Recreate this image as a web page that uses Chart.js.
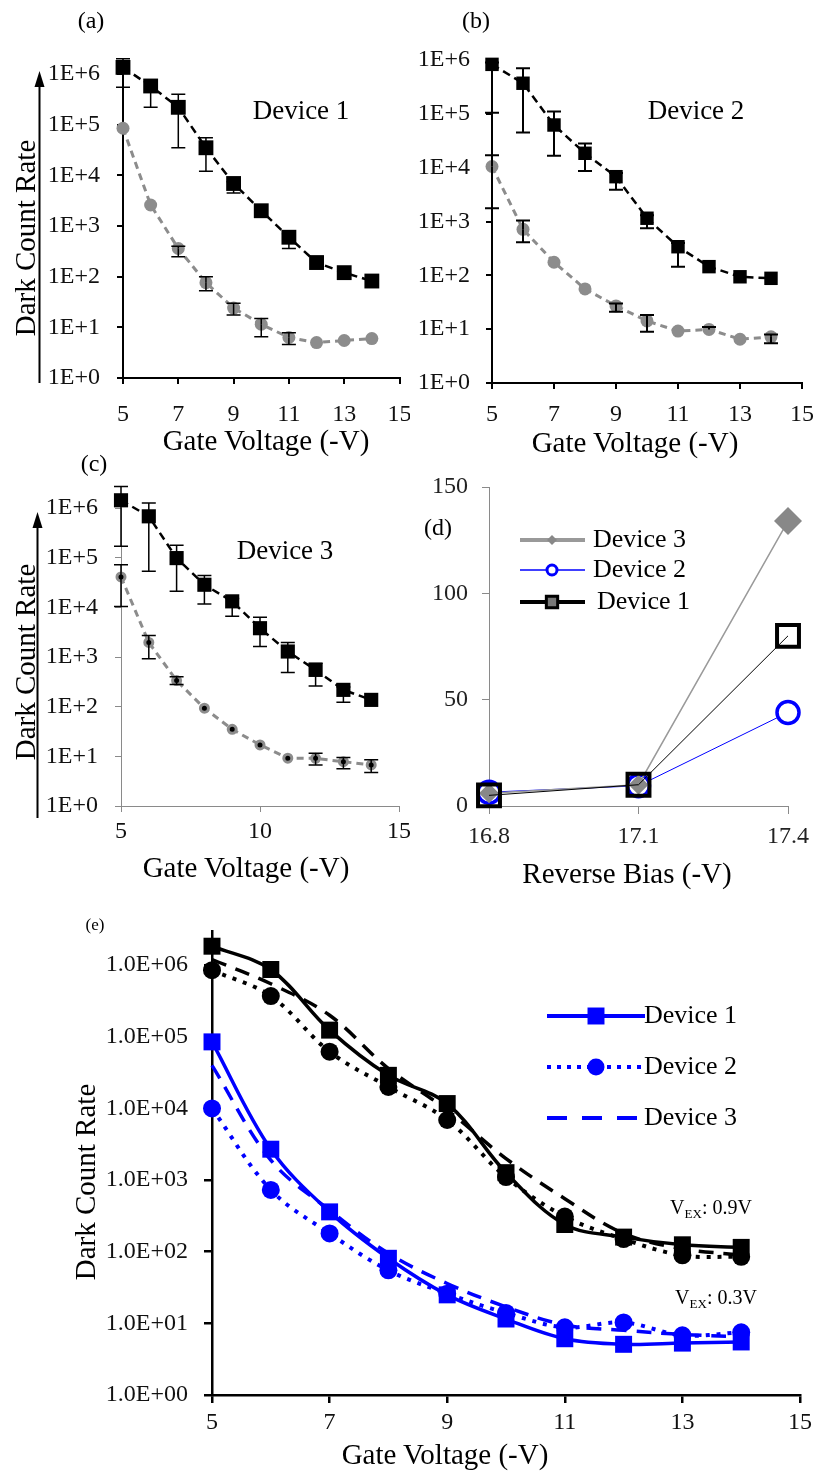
<!DOCTYPE html>
<html>
<head>
<meta charset="utf-8">
<script src="https://cdn.jsdelivr.net/npm/chart.js@4.4.0/dist/chart.umd.min.js"></script>
<style>
  body { margin: 0; background: #fff; }
  #page { position: relative; width: 819px; height: 1475px; font-family: 'Liberation Serif', 'Times New Roman', serif; color: #000; overflow: hidden; }
  #page canvas { position: absolute; }
  .t { position: absolute; white-space: nowrap; line-height: 1; transform: translate(-50%, -50%); }
  .v { transform: translate(-50%, -50%) rotate(-90deg); }
  .sub { font-size: 13px; position: relative; top: 4px; }
  svg { position: absolute; left: 0; top: 0; }
</style>
</head>
<body>
<div id="page">
  <canvas id="chartA" width="410" height="460" style="left:0;top:0"></canvas>
  <canvas id="chartB" width="409" height="460" style="left:410px;top:0"></canvas>
  <canvas id="chartC" width="410" height="430" style="left:0;top:460px"></canvas>
  <canvas id="chartD" width="409" height="430" style="left:410px;top:460px"></canvas>
  <canvas id="chartE" width="819" height="585" style="left:0;top:890px"></canvas>

  <svg width="819" height="1475">
    <line x1="39.5" y1="383" x2="39.5" y2="84" stroke="#000" stroke-width="2"/>
    <polygon points="39.5,71,34.5,87,44.5,87" fill="#000"/>
    <line x1="37.5" y1="818" x2="37.5" y2="525" stroke="#000" stroke-width="2"/>
    <polygon points="37.5,512,32.5,528,42.5,528" fill="#000"/>
  </svg>

  <div class="t" style="left:91px;top:20px;font-size:24px">(a)</div>
  <div class="t" style="left:476px;top:20px;font-size:24px">(b)</div>
  <div class="t" style="left:94px;top:463px;font-size:24px">(c)</div>
  <div class="t" style="left:438px;top:527px;font-size:24px">(d)</div>
  <div class="t" style="left:95px;top:924px;font-size:17px">(e)</div>

  <div class="t" style="left:301px;top:110px;font-size:27px">Device 1</div>
  <div class="t" style="left:696px;top:110px;font-size:27px">Device 2</div>
  <div class="t" style="left:285px;top:550px;font-size:27px">Device 3</div>

  <div class="t" style="left:266px;top:440px;font-size:29px">Gate Voltage (-V)</div>
  <div class="t" style="left:635px;top:442px;font-size:29px">Gate Voltage (-V)</div>
  <div class="t" style="left:246px;top:867px;font-size:29px">Gate Voltage (-V)</div>
  <div class="t" style="left:627px;top:873px;font-size:29px">Reverse Bias (-V)</div>
  <div class="t" style="left:445px;top:1454px;font-size:29px">Gate Voltage (-V)</div>

  <div class="t v" style="left:25px;top:238px;font-size:29px">Dark Count Rate</div>
  <div class="t v" style="left:25px;top:662px;font-size:29px">Dark Count Rate</div>
  <div class="t v" style="left:85px;top:1182px;font-size:29px">Dark Count Rate</div>

  <div class="t" style="left:711px;top:1207px;font-size:20px">V<span class="sub">EX</span>: 0.9V</div>
  <div class="t" style="left:716px;top:1297px;font-size:20px">V<span class="sub">EX</span>: 0.3V</div>
</div>

<script>
// gate voltage sweep used by panels a, b, c, e
const gateV = [5, 6, 7, 8, 9, 10, 11, 12, 13, 14];

// panel (a) - device 1
const aHigh   = [1.35e6, 5.8e5, 2.2e5, 3.5e4, 6.9e3, 2.0e3, 600, 190, 120, 82];
const aHighLo = [5.5e5, 2.2e5, 3.5e4, 1.2e4, 4.5e3, null, 360, null, null, null];
const aHighHi = [2.0e6, 7.0e5, 4.0e5, 5.5e4, 7.5e3, null, 700, null, null, null];
const aLow    = [8.5e4, 2.6e3, 360, 76, 24, 11.5, 6.3, 5.0, 5.5, 6.0];
const aLowLo  = [null, null, 246, 53, 17.5, 6.5, 4.6, null, null, null];
const aLowHi  = [null, null, 400, 100, 30, 15, 7.8, null, null, null];

// panel (b) - device 2
const bHigh   = [8.3e5, 3.7e5, 6.2e4, 1.85e4, 6.8e3, 1.15e3, 340, 145, 94, 88];
const bHighLo = [1.05e5, 4.5e4, 1.67e4, 8.7e3, 3.9e3, 750, 145, null, null, null];
const bHighHi = [9.0e5, 7.0e5, 1.1e5, 2.8e4, 8.0e3, 1.3e3, 400, null, null, null];
const bLow    = [1.05e4, 716, 175, 56, 27, 14.2, 9.2, 9.9, 6.5, 7.2];
const bLowLo  = [1.76e3, 410, null, null, 21, 9, null, null, null, 5.5];
const bLowHi  = [1.7e4, 1.04e3, null, null, 30, 18.4, null, 11, null, 8];

// panel (c) - device 3
const cHigh   = [1.43e6, 6.8e5, 9.8e4, 2.85e4, 1.32e4, 3.8e3, 1.29e3, 550, 218, 137];
const cHighLo = [1.7e5, 5.3e4, 2.1e4, 1.17e4, 6.6e3, 1.63e3, 490, 262, 123, null];
const cHighHi = [2.7e6, 1.26e6, 1.77e5, 4.4e4, 1.5e4, 6.3e3, 1.96e3, 750, 250, null];
const cLow    = [4.1e4, 1.96e3, 335, 93, 35, 17, 9.2, 9.1, 7.8, 6.7];
const cLowLo  = [1.04e4, 920, 280, null, null, null, null, 6.7, 5.6, 4.7];
const cLowHi  = [7.2e4, 2.7e3, 400, null, null, null, null, 11.5, 9.5, 8.5];

// panel (d)
const biasLabels = ['16.8', '17.1', '17.4'];
const dDev3 = [6, 10, 134];
const dDev2 = [6.5, 9.5, 44];
const dDev1 = [5, 10, 80];

// panel (e) - VEX 0.9V (black) and 0.3V (blue)
const eD1High = [1.84e6, 8.7e5, 1.24e5, 2.9e4, 1.17e4, 1.27e3, 240, 160, 125, 115];
const eD2High = [8.5e5, 3.7e5, 6.2e4, 2.0e4, 6.9e3, 1.1e3, 310, 150, 89, 85];
const eD3High = [1.2e6, 5.5e5, 2.0e5, 3.6e4, 9.5e3, 2.0e3, 550, 180, 110, 90];
const eD1Low  = [8.5e4, 2.7e3, 360, 81, 25, 11.5, 6.1, 5.1, 5.3, 5.5];
const eD2Low  = [1.0e4, 730, 180, 55, 26, 14, 8.8, 10.3, 6.8, 7.5];
const eD3Low  = [4.0e4, 1.9e3, 380, 95, 36, 17, 9.5, 8.0, 7.0, 6.5];

const decades = [1, 10, 100, 1e3, 1e4, 1e5, 1e6];
const legendE = ['Device 1', 'Device 2', 'Device 3'];
const legendD = ['Device 3', 'Device 2', 'Device 1'];

const SERIF = "'Liberation Serif', 'Times New Roman', serif";
const tickFont = { family: SERIF, size: 24 };
const GRAY = '#8c8c8c';
const BLUE = '#0000ff';

function pts(arr) {
  return gateV.map((x, i) => ({ x, y: arr[i] }));
}

const errorBars = {
  id: 'errorBars',
  afterDatasetsDraw(chart) {
    const { ctx, scales } = chart;
    chart.data.datasets.forEach((ds) => {
      if (!ds.errLo) return;
      ctx.save();
      ctx.strokeStyle = '#000';
      ctx.lineWidth = ds.errWidth || 1.5;
      ds.data.forEach((p, i) => {
        const x = scales.x.getPixelForValue(p.x);
        const y0 = scales.y.getPixelForValue(p.y);
        [ds.errLo[i], ds.errHi[i]].forEach((v) => {
          if (v == null) return;
          const y = scales.y.getPixelForValue(v);
          ctx.beginPath();
          ctx.moveTo(x, y0);
          ctx.lineTo(x, y);
          ctx.moveTo(x - 7, y);
          ctx.lineTo(x + 7, y);
          ctx.stroke();
        });
      });
      ctx.restore();
    });
  },
};

function yLog(o) {
  return {
    type: 'logarithmic',
    min: 1,
    max: o.max,
    afterBuildTicks: (s) => { s.ticks = decades.map((v) => ({ value: v })); },
    afterFit: (s) => { s.width = o.width; s.paddingTop = 0; s.paddingBottom = 0; },
    border: { display: true, color: o.color, width: o.lw },
    grid: { drawOnChartArea: false, color: o.color, lineWidth: o.lw, tickLength: o.tl },
    ticks: { font: tickFont, color: '#111', padding: o.pad, callback: o.fmt },
  };
}

function xGate(o) {
  return {
    type: 'linear',
    min: 5,
    max: 15,
    afterFit: (s) => { s.height = o.height; s.paddingLeft = 0; s.paddingRight = 0; },
    border: { display: true, color: o.color, width: o.lw },
    grid: { drawOnChartArea: false, color: o.color, lineWidth: o.lw, tickLength: o.tl },
    ticks: { font: tickFont, color: '#111', padding: o.pad, stepSize: o.step, maxRotation: 0 },
  };
}

const fmtShort = (v) => '1E+' + Math.round(Math.log10(v));
const fmtLong = (v) => '1.0E+0' + Math.round(Math.log10(v));

function gatePanel(id, p) {
  return new Chart(document.getElementById(id), {
    type: 'line',
    data: {
      datasets: [
        {
          data: pts(p.high), errLo: p.highLo, errHi: p.highHi, errWidth: p.errWidth,
          borderColor: '#000', borderWidth: 2.5, borderDash: [8, 5],
          pointStyle: 'rect', pointRadius: p.sq, pointBackgroundColor: '#000', pointBorderWidth: 0,
          clip: false,
        },
        {
          data: pts(p.low), errLo: p.lowLo, errHi: p.lowHi, errWidth: p.errWidth,
          borderColor: GRAY, borderWidth: 3, borderDash: [7, 5],
          pointStyle: 'circle', pointRadius: p.dot, pointBackgroundColor: p.dotFill,
          pointBorderColor: GRAY, pointBorderWidth: p.dotBorder,
          clip: false,
        },
      ],
    },
    options: {
      responsive: false,
      animation: false,
      events: [],
      layout: { padding: { left: 0, top: p.top, right: p.right, bottom: 0 } },
      plugins: { legend: { display: false }, tooltip: { enabled: false } },
      scales: {
        x: xGate({ height: p.xH, color: p.axis, lw: p.lw, tl: 6, pad: p.xPad, step: p.step }),
        y: yLog({ max: 1e6, width: p.yW, color: p.axis, lw: p.lw, tl: 6, pad: p.yPad, fmt: fmtShort }),
      },
    },
    plugins: [errorBars],
  });
}

gatePanel('chartA', {
  high: aHigh, highLo: aHighLo, highHi: aHighHi, low: aLow, lowLo: aLowLo, lowHi: aLowHi,
  sq: 10.5, dot: 6.5, dotFill: GRAY, dotBorder: 0, errWidth: 1.5,
  top: 74, right: 8, yW: 123, xH: 82, axis: '#000', lw: 2, xPad: 16, yPad: 17, step: 2,
});

gatePanel('chartB', {
  high: bHigh, highLo: bHighLo, highHi: bHighHi, low: bLow, lowLo: bLowLo, lowHi: bLowHi,
  sq: 9.5, dot: 6.5, dotFill: GRAY, dotBorder: 0, errWidth: 2,
  top: 60, right: 17, yW: 82, xH: 77, axis: '#000', lw: 2, xPad: 11, yPad: 16, step: 2,
});

gatePanel('chartC', {
  high: cHigh, highLo: cHighLo, highHi: cHighHi, low: cLow, lowLo: cLowLo, lowHi: cLowHi,
  sq: 10, dot: 4, dotFill: '#000', dotBorder: 3, errWidth: 1.5,
  top: 48, right: 11, yW: 121, xH: 84, axis: '#8a8a8a', lw: 1, xPad: 5, yPad: 17, step: 5,
});

// panel (d)
const legendPluginD = {
  id: 'legendD',
  afterDraw(chart) {
    const ctx = chart.ctx;
    const rows = [
      { y: 80, color: '#999', lw: 4, style: 'rectRot', r: 5, fill: '#888', bc: '#888', bw: 0 },
      { y: 110, color: BLUE, lw: 1.5, style: 'circle', r: 5, fill: '#fff', bc: BLUE, bw: 3 },
      { y: 142, color: '#000', lw: 4, style: 'rect', r: 8, fill: '#777', bc: '#000', bw: 3 },
    ];
    ctx.save();
    rows.forEach((row, i) => {
      ctx.strokeStyle = row.color;
      ctx.lineWidth = row.lw;
      ctx.beginPath();
      ctx.moveTo(110, row.y);
      ctx.lineTo(175, row.y);
      ctx.stroke();
      ctx.fillStyle = row.fill;
      ctx.strokeStyle = row.bc;
      ctx.lineWidth = row.bw;
      Chart.helpers.drawPoint(ctx, { pointStyle: row.style, radius: row.r, rotation: 0, borderWidth: row.bw }, 142, row.y);
      ctx.fillStyle = '#000';
      ctx.font = '26px ' + SERIF;
      ctx.textBaseline = 'middle';
      ctx.fillText(legendD[i], i === 2 ? 187 : 183, row.y);
    });
    ctx.restore();
  },
};

new Chart(document.getElementById('chartD'), {
  type: 'line',
  data: {
    labels: biasLabels,
    datasets: [
      {
        label: 'Device 1', data: dDev1, borderColor: '#000', borderWidth: 1,
        pointStyle: 'rect', pointRadius: 15.5, pointBackgroundColor: 'rgba(0,0,0,0)',
        pointBorderColor: '#000', pointBorderWidth: 4, clip: false,
      },
      {
        label: 'Device 3', data: dDev3, borderColor: '#9a9a9a', borderWidth: 1.5,
        pointStyle: 'rectRot', pointRadius: [10, 10, 14], pointBackgroundColor: '#888',
        pointBorderWidth: 0, clip: false,
      },
      {
        label: 'Device 2', data: dDev2, borderColor: BLUE, borderWidth: 1,
        pointStyle: 'circle', pointRadius: 11, pointBackgroundColor: '#fff',
        pointBorderColor: BLUE, pointBorderWidth: 3.5, clip: false,
      },
    ],
  },
  options: {
    responsive: false,
    animation: false,
    events: [],
    layout: { padding: { left: 0, top: 27, right: 31, bottom: 0 } },
    plugins: { legend: { display: false }, tooltip: { enabled: false } },
    scales: {
      x: {
        type: 'category',
        offset: false,
        afterFit: (s) => { s.height = 84; s.paddingLeft = 0; s.paddingRight = 0; },
        border: { display: true, color: '#8a8a8a', width: 1 },
        grid: { drawOnChartArea: false, color: '#8a8a8a', tickLength: 8, offset: false },
        ticks: { font: tickFont, color: '#222', padding: 8, maxRotation: 0 },
      },
      y: {
        type: 'linear',
        min: 0,
        max: 150,
        afterFit: (s) => { s.width = 79; s.paddingTop = 0; s.paddingBottom = 0; },
        border: { display: true, color: '#8a8a8a', width: 1 },
        grid: { drawOnChartArea: false, color: '#8a8a8a', tickLength: 7 },
        ticks: { font: tickFont, color: '#222', padding: 14, stepSize: 50 },
      },
    },
  },
  plugins: [legendPluginD],
});

// panel (e)
const legendPluginE = {
  id: 'legendE',
  afterDraw(chart) {
    const ctx = chart.ctx;
    const rows = [
      { y: 126, dash: [], style: 'rect', r: 12 },
      { y: 177, dash: [4, 6], style: 'circle', r: 8.5 },
      { y: 228, dash: [20, 15], style: null, r: 0 },
    ];
    ctx.save();
    rows.forEach((row, i) => {
      ctx.strokeStyle = BLUE;
      ctx.lineWidth = 4;
      ctx.setLineDash(row.dash);
      ctx.beginPath();
      ctx.moveTo(547, row.y);
      ctx.lineTo(645, row.y);
      ctx.stroke();
      ctx.setLineDash([]);
      if (row.style) {
        ctx.fillStyle = BLUE;
        Chart.helpers.drawPoint(ctx, { pointStyle: row.style, radius: row.r, rotation: 0, borderWidth: 0 }, 596, row.y);
      }
      ctx.fillStyle = '#000';
      ctx.font = '26px ' + SERIF;
      ctx.textBaseline = 'middle';
      ctx.fillText(legendE[i], 644, row.y);
    });
    ctx.restore();
  },
};

function eSet(arr, color, kind) {
  const base = { data: pts(arr), borderColor: color, tension: 0.35, pointBackgroundColor: color, pointBorderWidth: 0, clip: false };
  if (kind === 'solid') return Object.assign(base, { borderWidth: 3.5, pointStyle: 'rect', pointRadius: 12 });
  if (kind === 'dot') return Object.assign(base, { borderWidth: 4, borderDash: [4, 7], pointStyle: 'circle', pointRadius: 9 });
  return Object.assign(base, { borderWidth: 3.5, borderDash: [15, 10], pointRadius: 0 });
}

new Chart(document.getElementById('chartE'), {
  type: 'line',
  data: {
    datasets: [
      eSet(eD1High, '#000', 'solid'),
      eSet(eD2High, '#000', 'dot'),
      eSet(eD3High, '#000', 'dash'),
      eSet(eD1Low, BLUE, 'solid'),
      eSet(eD2Low, BLUE, 'dot'),
      eSet(eD3Low, BLUE, 'dash'),
    ],
  },
  options: {
    responsive: false,
    animation: false,
    events: [],
    layout: { padding: { left: 0, top: 41, right: 19, bottom: 0 } },
    plugins: { legend: { display: false }, tooltip: { enabled: false } },
    scales: {
      x: xGate({ height: 80, color: '#000', lw: 2.5, tl: 8, pad: 5, step: 2 }),
      y: yLog({ max: 3e6, width: 212, color: '#000', lw: 2.5, tl: 8, pad: 16, fmt: fmtLong }),
    },
  },
  plugins: [legendPluginE],
});
</script>
</body>
</html>
